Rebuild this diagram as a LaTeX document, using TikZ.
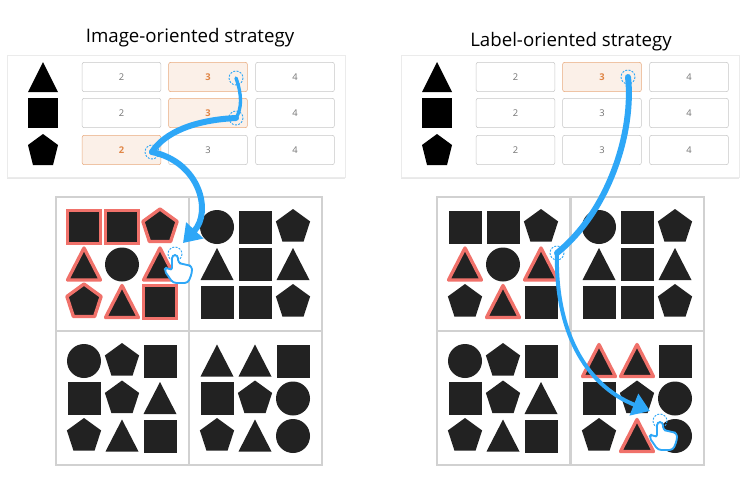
\documentclass[tikz,border=0pt]{standalone}
\usepackage{fontspec}
\setmainfont{Open Sans}
\usetikzlibrary{arrows.meta,shadows}
\definecolor{shp}{HTML}{222222}
\definecolor{redl}{HTML}{F0716A}
\definecolor{bl}{HTML}{2EA7F7}
\definecolor{org}{HTML}{E08545}
\definecolor{orgf}{HTML}{FBF0E8}
\tikzset{
  pics/S/.style={code={\fill[shp] (-16.5,-16.5) rectangle (16.5,16.5);}},
  pics/C/.style={code={\fill[shp] (0,0) circle (17);}},
  pics/T/.style={code={\fill[shp] (-16.5,15.5)--(16.5,15.5)--(0,-16.5)--cycle;}},
  pics/P/.style={code={\fill[shp] (270:18)--(342:18)--(54:18)--(126:18)--(198:18)--cycle;}},
  pics/SR/.style={code={\filldraw[shp,draw=redl,line width=2.5] (-16.5,-16.5) rectangle (16.5,16.5);}},
  pics/TR/.style={code={\filldraw[shp,draw=redl,line width=2.5,line join=round] (-16.5,15.5)--(16.5,15.5)--(0,-16.5)--cycle;}},
  pics/PR/.style={code={\filldraw[shp,draw=redl,line width=2.5,line join=round] (270:18)--(342:18)--(54:18)--(126:18)--(198:18)--cycle;}},
  cellbox/.style={draw=black!18,line width=0.9,fill=white},
  numbox/.style={draw=black!22,fill=white,rounded corners=1.5,minimum width=59pt,minimum height=22pt,inner sep=0,font=\fontsize{7}{8}\selectfont,text=black!55},
  hibox/.style={numbox,draw=org!70,fill=orgf,text=org,font=\fontsize{7}{8}\selectfont\bfseries},
  card/.style={fill=white,draw=black!8,drop shadow={opacity=0.18,shadow xshift=0pt,shadow yshift=-1.5pt}},
  ttl/.style={font=\fontsize{14}{16}\selectfont},
  arr/.style={draw=bl,line cap=round,-{Triangle[length=13,width=17]}},
  tapline/.style={draw=bl,line cap=round},
  tapc/.style={draw=bl,dashed,line width=0.7,dash pattern=on 1.5pt off 1pt},
  hand/.style={draw=bl,fill=white,line width=1.4,rounded corners=2.5,line join=round}
}
\newcommand\mycell[3]{%
  \draw[cellbox] (#1,#2) rectangle ++(133,134);
  \foreach \k [count=\i from 0] in {#3}{%
    \pgfmathtruncatemacro\cc{mod(\i,3)}%
    \pgfmathtruncatemacro\rr{int(\i/3)}%
    \pic at ({#1+28+\cc*38},{#2+30+\rr*37.5}) {\k};}}
\newcommand\myhand[2]{%
  \draw[tapc] (#1,#2) circle (7);
  \draw[hand] (#1-3,#2+1)--(#1-3,#2+17)--(#1-8,#2+13)--(#1-11,#2+16)--(#1-2,#2+29)--(#1+13,#2+29)--(#1+17,#2+19)--(#1+17,#2+12)--(#1+12,#2+11)--(#1+8,#2+10)--(#1+3,#2+9)--(#1+3,#2+1)--cycle;}
\begin{document}
\begin{tikzpicture}[x=0.75pt,y=-0.75pt]
\useasboundingbox (0,0) rectangle (750,500);
% titles
\node[ttl] (t1) at (190,38) {Image-oriented strategy};
\node[ttl] (t2) at (571,42) {Label-oriented strategy};
% cards
\foreach \ox/\nm in {0/a,394/b}{
  \begin{scope}[xshift=\ox*0.75pt]
  \path[card] (7,55) rectangle (345,177);
  \fill (28,92)--(58,92)--(43,62)--cycle;
  \fill (28,98) rectangle (58,128);
  \fill (43,134)--(58,145)--(53,165)--(33,165)--(28,145)--cycle;
  \end{scope}}
% left table
\node[numbox] (a11) at (121.5,77) {2};
\node[hibox]  (a12) at (208,77) {3};
\node[numbox] (a13) at (295,77) {4};
\node[numbox] (a21) at (121.5,113) {2};
\node[hibox]  (a22) at (208,113) {3};
\node[numbox] (a23) at (295,113) {4};
\node[hibox]  (a31) at (121.5,150) {2};
\node[numbox] (a32) at (208,150) {3};
\node[numbox] (a33) at (295,150) {4};
% right table
\node[numbox] (b11) at (515.5,77) {2};
\node[hibox]  (b12) at (602,77) {3};
\node[numbox] (b13) at (689,77) {4};
\node[numbox] (b21) at (515.5,113) {2};
\node[numbox] (b22) at (602,113) {3};
\node[numbox] (b23) at (689,113) {4};
\node[numbox] (b31) at (515.5,150) {2};
\node[numbox] (b32) at (602,150) {3};
\node[numbox] (b33) at (689,150) {4};
% left grid
\mycell{56}{197}{SR,SR,PR,TR,C,TR,PR,TR,SR}
\mycell{189}{197}{C,S,P,T,S,T,S,S,P}
\mycell{56}{331}{C,P,S,S,P,T,P,T,S}
\mycell{189}{331}{T,T,S,S,P,C,P,T,C}
% right grid
\mycell{437}{197}{S,S,P,TR,C,TR,P,TR,S}
\mycell{571}{197}{C,S,P,T,S,T,S,S,P}
\mycell{437}{331}{C,P,S,S,P,T,P,T,S}
\mycell{571}{331}{TR,TR,S,S,P,C,P,TR,C}
% left arrows
\coordinate (p1) at (236,78);
\coordinate (p2) at (236,118);
\coordinate (p3) at (152,152);
\coordinate (p4) at (183,243);
\draw[tapc] (p1) circle (7); \draw[tapc] (p2) circle (7); \draw[tapc] (p3) circle (7);
\draw[tapline,line width=2.5] (p1) .. controls (242,95) and (242,108) .. (p2);
\draw[tapline,line width=4.5] (p2) .. controls (195,120) and (165,132) .. (p3);
\draw[arr,line width=4.5] (p3) .. controls (200,162) and (212,212) .. (p4);
\myhand{175}{254}
% right arrows
\coordinate (q1) at (628,77);
\coordinate (q2) at (557,253);
\coordinate (q3) at (650,411);
\draw[tapc] (q1) circle (7); \draw[tapc] (q2) circle (7);
\draw[tapline,line width=4.5] (q1) .. controls (634,130) and (610,210) .. (q2);
\draw[arr,line width=3] (q2) .. controls (555,330) and (585,385) .. (q3);
\myhand{660}{421}
\end{tikzpicture}
\end{document}
